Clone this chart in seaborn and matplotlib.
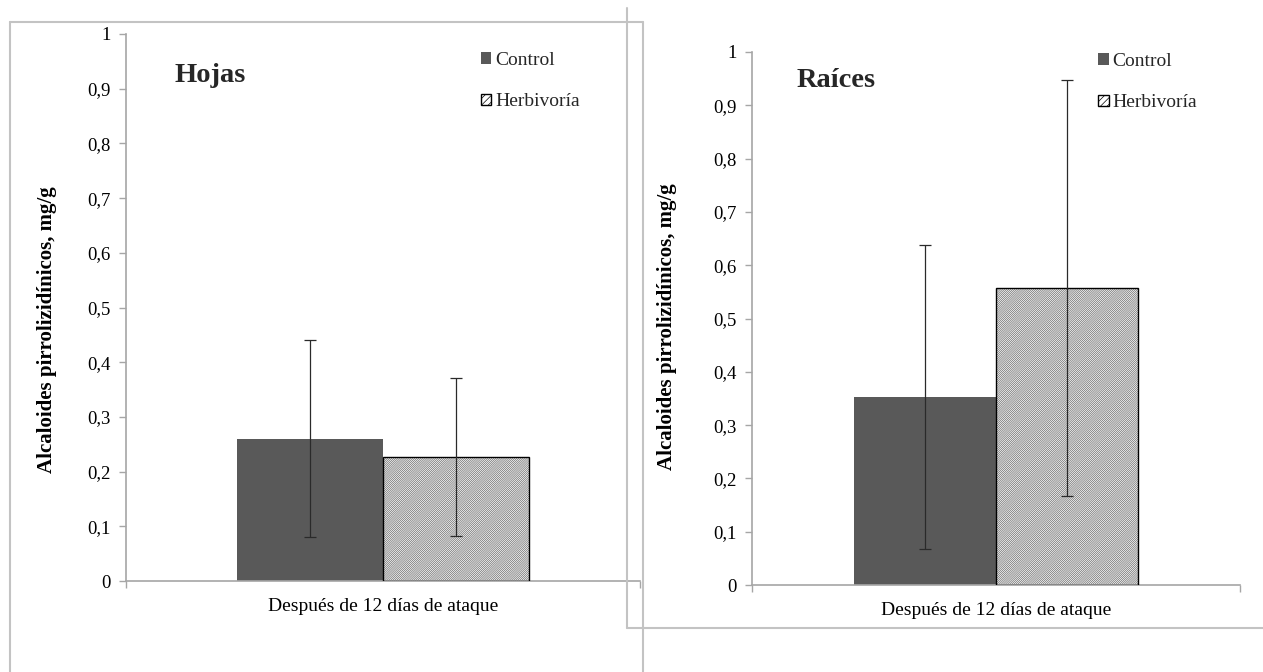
import matplotlib
matplotlib.use("Agg")
import matplotlib.pyplot as plt
import seaborn as sns
import pandas as pd
from matplotlib.patches import Patch, Rectangle
from matplotlib.lines import Line2D
from matplotlib.ticker import FixedLocator, FuncFormatter

# ---- data ----
category = ["Después de 12 días de ataque"]
groups = ["Control", "Herbivoría"]
hojas_mean = [0.26, 0.227]
hojas_err = [0.18, 0.145]
raices_mean = [0.353, 0.557]
raices_err = [0.285, 0.39]
y_ticks = [0, 0.1, 0.2, 0.3, 0.4, 0.5, 0.6, 0.7, 0.8, 0.9, 1.0]
panel_titles = ["Hojas", "Raíces"]
y_label = "Alcaloides pirrolizidínicos, mg/g"

sns.set_theme(style="white")
plt.rcParams['font.family'] = ['Liberation Serif', 'DejaVu Serif']
plt.rcParams['hatch.linewidth'] = 0.5

W, H = 1263, 672
fig = plt.figure(figsize=(W / 100, H / 100), dpi=100)

def fx(px):
    return px / W

def fy(py):
    return 1 - py / H

border = '#c3c3c3'
# panel borders
fig.add_artist(Line2D([fx(10), fx(643)], [fy(22), fy(22)], color=border, lw=1.5, transform=fig.transFigure))
fig.add_artist(Line2D([fx(10), fx(10)], [fy(22), fy(675)], color=border, lw=1.5, transform=fig.transFigure))
fig.add_artist(Line2D([fx(643), fx(643)], [fy(22), fy(675)], color=border, lw=1.5, transform=fig.transFigure))
fig.add_artist(Line2D([fx(627), fx(627)], [fy(8), fy(628)], color=border, lw=1.5, transform=fig.transFigure))
fig.add_artist(Line2D([fx(627), fx(1266)], [fy(628), fy(628)], color=border, lw=1.5, transform=fig.transFigure))

panels = [
    dict(rect=(126, 34, 640, 581), mean=hojas_mean, err=hojas_err, title=panel_titles[0],
         width=0.57, title_xy=(0.095, 0.925), ylab=(-0.135, 0.46), leg_xy=(0.69, 0.967)),
    dict(rect=(752, 52, 1240, 585), mean=raices_mean, err=raices_err, title=panel_titles[1],
         width=0.584, title_xy=(0.092, 0.947), ylab=(-0.153, 0.485), leg_xy=(0.709, 0.998)),
]

bar_colors = ['#595959', 'white']
axis_gray = '#a6a6a6'
hatch_gray = '#6a6a6a'

for p in panels:
    x0, y0, x1, y1 = p['rect']
    ax = fig.add_axes([fx(x0), fy(y1), (x1 - x0) / W, (y1 - y0) / H])
    df = pd.DataFrame({'cat': category * len(groups), 'group': groups, 'value': p['mean']})
    sns.barplot(data=df, x='cat', y='value', hue='group', hue_order=groups,
                palette=bar_colors, width=p['width'], errorbar=None, ax=ax,
                legend=False, saturation=1)
    bars = list(ax.patches)[:len(groups)]
    for i, b in enumerate(bars):
        if i == 0:
            b.set_edgecolor('none')
            b.set_linewidth(0)
        else:
            b.set_facecolor('white')
            b.set_edgecolor(hatch_gray)
            b.set_linewidth(0)
            b.set_hatch('/' * 16)
            ax.add_patch(Rectangle((b.get_x(), b.get_y()), b.get_width(), b.get_height(),
                                   facecolor='none', edgecolor='black', linewidth=1.0, zorder=3))
        cx = b.get_x() + b.get_width() / 2
        ax.errorbar(cx, p['mean'][i], yerr=p['err'][i], fmt='none',
                    ecolor='#2a2a2a', elinewidth=0.9, capsize=4, capthick=0.9, zorder=5)

    ax.set_xlim(-0.5, 0.5)
    ax.set_ylim(0, 1)
    ax.yaxis.set_major_locator(FixedLocator(y_ticks))
    ax.yaxis.set_major_formatter(FuncFormatter(
        lambda v, pos: ('%g' % round(v, 1)).replace('.', ',')))
    for s in ['top', 'right']:
        ax.spines[s].set_visible(False)
    for s in ['left', 'bottom']:
        ax.spines[s].set_color(axis_gray)
        ax.spines[s].set_linewidth(1.2)
    ax.tick_params(axis='y', which='major', direction='out', length=5, width=1,
                   color=axis_gray, labelsize=13.5, labelcolor='black', pad=6, left=True)
    ax.tick_params(axis='x', which='major', length=0, labelsize=14, labelcolor='black', pad=12)
    ax.set_xticks(ax.get_xticks(), category)
    ax.xaxis.set_minor_locator(FixedLocator([-0.5, 0.5]))
    ax.tick_params(axis='x', which='minor', direction='out', length=5, width=1,
                   color=axis_gray, bottom=True)
    ax.set_xlabel('')
    ax.set_ylabel(y_label, fontsize=15, fontweight='bold', color='black')
    ax.yaxis.set_label_coords(p['ylab'][0], p['ylab'][1])
    ax.text(p['title_xy'][0], p['title_xy'][1], p['title'], transform=ax.transAxes,
            fontsize=20.5, fontweight='bold', va='center', ha='left')
    handles = [
        Patch(facecolor='#595959', edgecolor='none', label=groups[0]),
        Patch(facecolor='white', edgecolor='black', hatch='/' * 5, linewidth=1.0, label=groups[1]),
    ]
    ax.legend(handles=handles, loc='upper left', bbox_to_anchor=p['leg_xy'], frameon=False,
              fontsize=14, handlelength=0.55, handleheight=0.55, handletextpad=0.2,
              labelspacing=1.25, borderaxespad=0, borderpad=0)

fig.savefig('out.png', dpi=100)
